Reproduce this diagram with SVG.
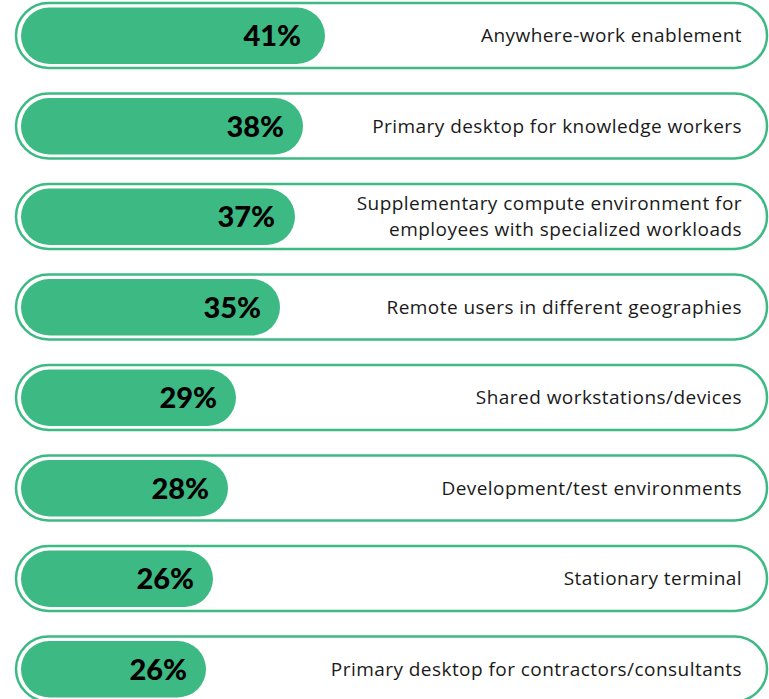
<svg xmlns="http://www.w3.org/2000/svg" width="769" height="699" viewBox="0 0 769 699">
<style>
.outer{fill:#fff;stroke:#3dba84;stroke-width:2.5}
.fill{fill:#3dba84}
.pct{font-family:Lato,"Liberation Sans",sans-serif;font-weight:900;font-size:29px;fill:#000;text-anchor:end}
.lbl{font-family:"Open Sans","Liberation Sans",sans-serif;font-size:19px;letter-spacing:0.45px;fill:#1a1a1a;text-anchor:end}
</style>
<rect width="769" height="699" fill="#fff"/>
<g id="bar1"><rect class="outer" x="16" y="3" width="751" height="65" rx="32.5"/><rect class="fill" x="21" y="7.5" width="304" height="56.5" rx="28.25"/><text class="pct" x="301" y="46">41%</text><text class="lbl" x="742" y="42">Anywhere-work enablement</text></g>
<g id="bar2"><rect class="outer" x="16" y="93.5" width="751" height="65" rx="32.5"/><rect class="fill" x="21" y="98" width="282" height="56.5" rx="28.25"/><text class="pct" x="284" y="136.5">38%</text><text class="lbl" x="742" y="132.5">Primary desktop for knowledge workers</text></g>
<g id="bar3"><rect class="outer" x="16" y="184" width="751" height="65" rx="32.5"/><rect class="fill" x="21" y="188.5" width="274" height="56.5" rx="28.25"/><text class="pct" x="275" y="227">37%</text><text class="lbl" x="742" y="210">Supplementary compute environment for</text><text class="lbl" x="742" y="236">employees with specialized workloads</text></g>
<g id="bar4"><rect class="outer" x="16" y="274.5" width="751" height="65" rx="32.5"/><rect class="fill" x="21" y="279" width="259" height="56.5" rx="28.25"/><text class="pct" x="261" y="317.5">35%</text><text class="lbl" x="742" y="313.5">Remote users in different geographies</text></g>
<g id="bar5"><rect class="outer" x="16" y="365" width="751" height="65" rx="32.5"/><rect class="fill" x="21" y="369.5" width="215" height="56.5" rx="28.25"/><text class="pct" x="217" y="408">29%</text><text class="lbl" x="742" y="404">Shared workstations/devices</text></g>
<g id="bar6"><rect class="outer" x="16" y="455.5" width="751" height="65" rx="32.5"/><rect class="fill" x="21" y="460" width="207" height="56.5" rx="28.25"/><text class="pct" x="209" y="498.5">28%</text><text class="lbl" x="742" y="494.5">Development/test environments</text></g>
<g id="bar7"><rect class="outer" x="16" y="546" width="751" height="65" rx="32.5"/><rect class="fill" x="21" y="550.5" width="192" height="56.5" rx="28.25"/><text class="pct" x="194" y="589">26%</text><text class="lbl" x="742" y="585">Stationary terminal</text></g>
<g id="bar8"><rect class="outer" x="16" y="636.5" width="751" height="65" rx="32.5"/><rect class="fill" x="21" y="641" width="185" height="56.5" rx="28.25"/><text class="pct" x="187" y="679.5">26%</text><text class="lbl" x="742" y="675.5">Primary desktop for contractors/consultants</text></g>
</svg>
